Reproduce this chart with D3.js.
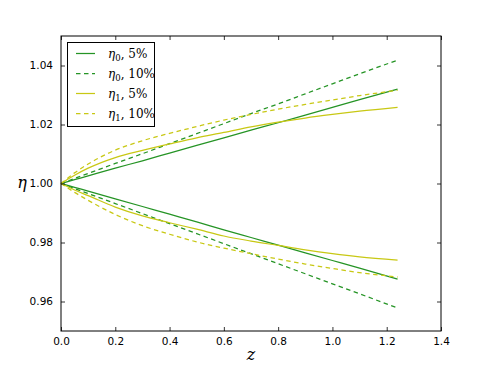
<!DOCTYPE html>
<html>
<head>
<meta charset="utf-8">
<script src="https://d3js.org/d3.v7.min.js"></script>
<style>
  html, body { margin: 0; padding: 0; background: #fff; }
  svg { display: block; }
</style>
</head>
<body>
<svg id="chart" width="491" height="368"></svg>
<script>
// ---- data ----
const zValues = [0, 0.05, 0.1, 0.2, 0.3, 0.4, 0.5, 0.6, 0.7, 0.8, 0.9, 1.0, 1.1, 1.24];

const eta0_5_up   = [1, 1.0013, 1.0026, 1.0052, 1.0077, 1.0103, 1.0129, 1.0155, 1.0181, 1.0206, 1.0232, 1.0258, 1.0284, 1.0320];
const eta0_5_dn   = [1, 0.9987, 0.9974, 0.9948, 0.9922, 0.9896, 0.9870, 0.9843, 0.9817, 0.9791, 0.9765, 0.9739, 0.9713, 0.9676];
const eta0_10_up  = [1, 1.0017, 1.0034, 1.0068, 1.0101, 1.0135, 1.0169, 1.0203, 1.0237, 1.0270, 1.0304, 1.0338, 1.0372, 1.0418];
const eta0_10_dn  = [1, 0.9983, 0.9966, 0.9932, 0.9898, 0.9864, 0.9830, 0.9796, 0.9762, 0.9728, 0.9694, 0.9660, 0.9626, 0.9578];
const eta1_5_up   = [1, 1.0028, 1.0052, 1.0088, 1.0112, 1.0134, 1.0155, 1.0173, 1.0192, 1.0208, 1.0222, 1.0234, 1.0245, 1.0258];
const eta1_5_dn   = [1, 0.9978, 0.9959, 0.9920, 0.9890, 0.9867, 0.9845, 0.9822, 0.9805, 0.9790, 0.9775, 0.9762, 0.9751, 0.9740];
const eta1_10_up  = [1, 1.0036, 1.0066, 1.0113, 1.0145, 1.0170, 1.0193, 1.0215, 1.0234, 1.0252, 1.0268, 1.0283, 1.0298, 1.0316];
const eta1_10_dn  = [1, 0.9970, 0.9943, 0.9895, 0.9857, 0.9828, 0.9802, 0.9781, 0.9762, 0.9744, 0.9727, 0.9712, 0.9698, 0.9683];

const xTicks = [0.0, 0.2, 0.4, 0.6, 0.8, 1.0, 1.2, 1.4];
const yTicks = [0.96, 0.98, 1.00, 1.02, 1.04];

const legendItems = [
  { sub: "0", pct: "5%",  color: "green",  dashed: false },
  { sub: "0", pct: "10%", color: "green",  dashed: true  },
  { sub: "1", pct: "5%",  color: "yellow", dashed: false },
  { sub: "1", pct: "10%", color: "yellow", dashed: true  }
];

// ---- styling ----
const COLORS = { green: "#259425", yellow: "#c8c814" };
const DASH = "4.5,3.5";

const series = [
  { v: eta0_5_up,  color: "green",  dashed: false },
  { v: eta0_10_up, color: "green",  dashed: true  },
  { v: eta1_5_up,  color: "yellow", dashed: false },
  { v: eta1_10_up, color: "yellow", dashed: true  },
  { v: eta0_5_dn,  color: "green",  dashed: false },
  { v: eta0_10_dn, color: "green",  dashed: true  },
  { v: eta1_5_dn,  color: "yellow", dashed: false },
  { v: eta1_10_dn, color: "yellow", dashed: true  }
];

const svg = d3.select("#chart");
const L = 61, R = 441, T = 36, B = 331;

const x = d3.scaleLinear().domain([0, 1.4]).range([L, R]);
const y = d3.scaleLinear().domain([0.95, 1.05]).range([B, T]);

// curves
const line = d3.line().x((d, i) => x(zValues[i])).y(d => y(d)).curve(d3.curveMonotoneX);
const plot = svg.append("g");
series.forEach(s => {
  plot.append("path")
    .attr("d", line(s.v))
    .attr("fill", "none")
    .attr("stroke", COLORS[s.color])
    .attr("stroke-width", 1.25)
    .attr("stroke-dasharray", s.dashed ? DASH : null);
});

// axes (ticks inward, on all sides)
const font = "'DejaVu Sans', sans-serif";
const tl = 4;
const axB = svg.append("g").attr("transform", `translate(0,${B})`)
  .call(d3.axisBottom(x).tickValues(xTicks).tickFormat(d3.format(".1f")).tickSizeInner(-tl).tickSizeOuter(0).tickPadding(7));
const axT = svg.append("g").attr("transform", `translate(0,${T})`)
  .call(d3.axisTop(x).tickValues(xTicks).tickFormat("").tickSizeInner(-tl).tickSizeOuter(0));
const axL = svg.append("g").attr("transform", `translate(${L},0)`)
  .call(d3.axisLeft(y).tickValues(yTicks).tickFormat(d3.format(".2f")).tickSizeInner(-tl).tickSizeOuter(0).tickPadding(8));
const axR = svg.append("g").attr("transform", `translate(${R},0)`)
  .call(d3.axisRight(y).tickValues(yTicks).tickFormat("").tickSizeInner(-tl).tickSizeOuter(0));
[axB, axT, axL, axR].forEach(a => {
  a.select(".domain").remove();
  a.selectAll(".tick line").attr("stroke", "#000").attr("stroke-width", 0.8);
  a.selectAll(".tick text").attr("fill", "#000").style("font-family", font).style("font-size", "10.5px");
});

svg.append("rect").attr("x", L).attr("y", T).attr("width", R - L).attr("height", B - T)
  .attr("fill", "none").attr("stroke", "#000").attr("stroke-width", 1);

// axis labels
const serif = "'DejaVu Serif', 'Liberation Serif', serif";
svg.append("text").attr("x", (L + R) / 2).attr("y", 360).attr("text-anchor", "middle")
  .style("font-family", serif).style("font-style", "italic").style("font-size", "16px").text("z");
svg.append("text").attr("x", 22).attr("y", 188).attr("text-anchor", "middle")
  .style("font-family", serif).style("font-style", "italic").style("font-size", "16px").text("η");

// legend
const lg = svg.append("g");
lg.append("rect").attr("x", 67.5).attr("y", 42.5).attr("width", 87).attr("height", 84)
  .attr("fill", "#fff").attr("stroke", "#000").attr("stroke-width", 1);
legendItems.forEach((it, i) => {
  const yy = 53.5 + i * 20;
  lg.append("line").attr("x1", 76).attr("x2", 95).attr("y1", yy).attr("y2", yy)
    .attr("stroke", COLORS[it.color]).attr("stroke-width", 1.25)
    .attr("stroke-dasharray", it.dashed ? DASH : null);
  const t = lg.append("text").attr("x", 108).attr("y", yy + 4.5)
    .style("font-family", serif).style("font-size", "12px").attr("fill", "#000");
  t.append("tspan").style("font-style", "italic").text("η");
  t.append("tspan").attr("dy", 3).style("font-size", "8.5px").text(it.sub);
  t.append("tspan").attr("dy", -3).text(", " + it.pct);
});
</script>
</body>
</html>
